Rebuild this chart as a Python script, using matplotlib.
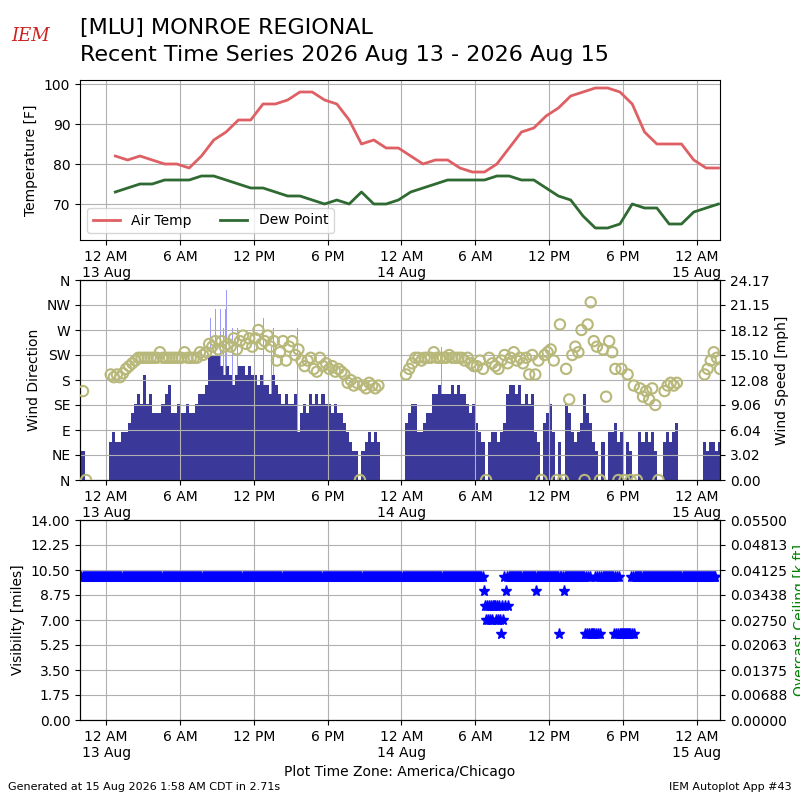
import numpy as np
import matplotlib
matplotlib.use('Agg')
import matplotlib.pyplot as plt

# hours since 13 Aug 2026 00:00 CDT
# hourly temperature obs, first one ~00:45
temp_start = 0.75
air_temp = [82, 81, 82, 81, 80, 80, 79, 82, 86, 88, 91, 91, 95, 95, 96, 98, 98, 96,
            95, 91, 85, 86, 84, 84, 82, 80, 81, 81, 79, 78, 78, 80, 84, 88, 89, 92,
            94, 97, 98, 99, 99, 98, 95, 88, 85, 85, 85, 81, 79, 79]
dew_point = [73, 74, 75, 75, 76, 76, 76, 77, 77, 76, 75, 74, 74, 73, 72, 72, 71, 70,
             71, 70, 73, 70, 70, 71, 73, 74, 75, 76, 76, 76, 76, 77, 77, 76, 76, 74,
             72, 71, 67, 64, 64, 65, 70, 69, 69, 65, 65, 68, 69, 70]

# wind in 15 minute slots [knots], first slot 12 Aug 22:00
wind_start = -2.0
wspd_aug12 = [3, 0, None, None, None, None, None, None]
wspd_aug13 = [None, 4, 5, 4, 4, 5, 5, 6, 7, 8, 9, 8, 11, 8, 9, 7,
              7, 7, 8, 9, 10, 7, 7, 8, 7, 7, 8, 7, 7, 8, 9, 9,
              10, 13, 13, 13, 13, 12, 11, 12, 11, 10, 11, 12, 12, 11, 12, 11,
              11, 10, 11, 10, 10, 9, 11, 10, 9, 8, 9, 8, 8, 9, 5, 7,
              8, 7, 9, 8, 9, 8, 9, 8, 8, 7, 8, 7, 7, 6, 5, 4,
              3, 3, 0, 3, 4, 5, 4, 5, 4, None, None, None, None, None, None, None]
wspd_aug14 = [None, 6, 7, 8, 8, 5, 5, 6, 7, 7, 9, 9, 10, 9, 9, 9,
              10, 9, 10, 9, 9, 8, 7, 8, 6, 5, 4, 0, 4, 5, 5, 4,
              5, 6, 9, 10, 10, 9, 10, 8, 9, 8, 9, 5, 4, 0, 6, 7,
              8, 5, 0, 4, 0, 8, 7, 5, 4, 5, 6, 9, 7, 6, 4, 3,
              0, 4, 0, 5, 5, 6, 4, 5, 0, 4, 3, 0, 0, 5, 4, 5,
              4, 5, 3, 0, None, 4, 5, 4, 5, 6, None, None, None, None, None, None]
wspd_aug15 = [None, None, 4, 3, 4, 4, 3, 4]

wdir_aug12 = [160, 0, None, None, None, None, None, None]
wdir_aug13 = [None, 190, 185, 190, 185, 192, 200, 205, 210, 215, 220, 220, 220, 220, 220, 220,
              220, 230, 220, 220, 220, 220, 220, 220, 220, 230, 220, 220, 220, 220, 230, 225,
              230, 245, 240, 250, 235, 250, 240, 245, 240, 255, 235, 250, 260, 245, 255, 240,
              255, 270, 245, 250, 260, 240, 250, 215, 230, 250, 215, 240, 250, 225, 235, 215,
              205, 215, 220, 200, 195, 220, 205, 210, 200, 205, 195, 200, 195, 190, 175, 180,
              170, 175, 0, 170, 165, 175, 170, 165, 170, None, None, None, None, None, None, None]
wdir_aug14 = [None, 190, 200, 210, 220, 220, 215, 220, 220, 220, 230, 220, 220, 220, 220, 225,
              220, 220, 220, 220, 215, 220, 210, 205, 205, 215, 200, 0, 220, 210, 205, 200,
              215, 225, 210, 220, 230, 215, 220, 210, 220, 190, 225, 190, 215, 0, 225, 230,
              235, 215, 0, 280, 0, 200, 145, 225, 240, 230, 270, 0, 280, 320, 250, 240,
              0, 235, 150, 250, 230, 200, 0, 200, 0, 190, 0, 170, 0, 165, 150, 160,
              145, 165, 135, 0, None, 160, 170, 175, 170, 175, None, None, None, None, None, None]
wdir_aug15 = [None, None, 190, 200, 215, 230, 220, 200]

# gusts [knots]
gust_hours = [8.46, 8.86, 9.32, 9.54, 9.68, 9.81, 10.27, 10.68, 12.78, 13.43, 13.59, 15.54, 27.24]
gust_kt = [17, 18, 18, 16, 18, 20, 16, 16, 17, 14, 16, 16, 14]

# visibility [miles], 5 minute steps from 12 Aug 22:00 as (value, count) runs
vis_start = -2.0
vis_vals = [10, 9, 8, 7, 8, 7, 8, 7, 8, 7, 8, 7, 8, 7, 8, 7, 6, 8, 7, 10, 8, 9, 10, 8,
            10, 9, 10, 6, 10, 9, 10,
            6, 10, 6, 10, 6, 10, 6, 10, 6, 10, 6, 10, 6, 10,
            6, 10, 6, 10, 6, 10, 6, 10, 6, 10, 6, 10]
vis_steps = [392, 1, 1, 1, 1, 1, 1, 1, 1, 1, 3, 1, 1, 1, 1, 1, 1, 1, 1, 1, 1, 1, 1, 1,
             26, 1, 22, 1, 3, 1, 20,
             1, 1, 1, 1, 1, 1, 4, 1, 1, 1, 1, 1, 1, 12,
             1, 1, 1, 1, 1, 1, 11, 1, 1, 1, 1, 79]

KT2MPH = 1.15078

spd = np.array(wspd_aug12 + wspd_aug13 + wspd_aug14 + wspd_aug15, dtype=float) * KT2MPH
wdir = np.array(wdir_aug12 + wdir_aug13 + wdir_aug14 + wdir_aug15, dtype=float)
t_wind = wind_start + np.arange(len(spd)) * 0.25
ok = ~np.isnan(spd)
gust = np.array(gust_kt) * KT2MPH

t_temp = temp_start + np.arange(len(air_temp))

vis = np.repeat(vis_vals, vis_steps)
t_vis = vis_start + np.arange(len(vis)) / 12.0

xlim = (-2.12, 49.88)
xticks = np.arange(0, 49, 6)
xlabels = ['12 AM\n13 Aug', '6 AM', '12 PM', '6 PM', '12 AM\n14 Aug',
           '6 AM', '12 PM', '6 PM', '12 AM\n15 Aug']

fig = plt.figure(figsize=(8, 8), dpi=100)

# temperature
ax1 = fig.add_axes([0.1, 0.7, 0.8, 0.2])
ax1.plot(t_temp, air_temp, color='#de6064', lw=2, label='Air Temp')
ax1.plot(t_temp, dew_point, color='#2f6a32', lw=2, label='Dew Point')
ax1.set_ylim(61, 101)
ax1.set_ylabel('Temperature [F]')
ax1.legend(loc='lower left', ncol=2)

# wind
ax2 = fig.add_axes([0.1, 0.4, 0.8, 0.25])
ax2b = ax2.twinx()
ax2b.bar(gust_hours, gust, width=0.08, color='#9a9aff', lw=0)
ax2b.bar(t_wind[ok], spd[ok], width=0.25, align='edge', color='#3a3898', lw=0)
ymax = gust.max() * 1.05
ax2b.set_ylim(0, ymax)
spd_ticks = np.linspace(0, ymax, 9)
ax2b.set_yticks(spd_ticks)
ax2b.set_yticklabels(['%.2f' % v for v in spd_ticks])
ax2b.set_ylabel('Wind Speed [mph]')
ax2.scatter(t_wind + 0.125, wdir, s=55, facecolors='none', edgecolors='#b8b87a',
            linewidths=1.5, zorder=3)
ax2.set_zorder(ax2b.get_zorder() + 1)
ax2.patch.set_visible(False)
ax2.set_ylim(0, 360)
ax2.set_yticks(range(0, 361, 45))
ax2.set_yticklabels(['N', 'NE', 'E', 'SE', 'S', 'SW', 'W', 'NW', 'N'])
ax2.set_ylabel('Wind Direction')

# visibility
ax3 = fig.add_axes([0.1, 0.1, 0.8, 0.25])
ax3.plot(t_vis, vis, ls='none', marker='*', ms=8, color='b')
ax3.set_ylim(0, 14)
vis_ticks = np.linspace(0, 14, 9)
ax3.set_yticks(vis_ticks)
ax3.set_yticklabels(['%.2f' % v for v in vis_ticks])
ax3.set_ylabel('Visibility [miles]')
ax3.set_xlabel('Plot Time Zone: America/Chicago')
ax3b = ax3.twinx()
ax3b.set_ylim(0, 0.055)
ceil_ticks = np.linspace(0, 0.055, 9)
ax3b.set_yticks(ceil_ticks)
ax3b.set_yticklabels(['%.5f' % (v + 1e-12) for v in ceil_ticks])
ax3b.set_ylabel('Overcast Ceiling [k ft]', color='g')

for ax in (ax1, ax2, ax3):
    ax.set_xlim(*xlim)
    ax.set_xticks(xticks)
    ax.set_xticklabels(xlabels)
    ax.grid(True)

fig.text(0.1, 0.965, '[MLU] MONROE REGIONAL', fontsize=16, va='center')
fig.text(0.1, 0.931, 'Recent Time Series 2026 Aug 13 - 2026 Aug 15', fontsize=16, va='center')
fig.text(0.038, 0.955, 'IEM', fontsize=13, color='#cc2222', family='serif',
         style='italic', ha='center', va='center')
fig.text(0.01, 0.012, 'Generated at 15 Aug 2026 1:58 AM CDT in 2.71s', fontsize=8)
fig.text(0.99, 0.012, 'IEM Autoplot App #43', fontsize=8, ha='right')

plt.savefig('out.png', dpi=100)
